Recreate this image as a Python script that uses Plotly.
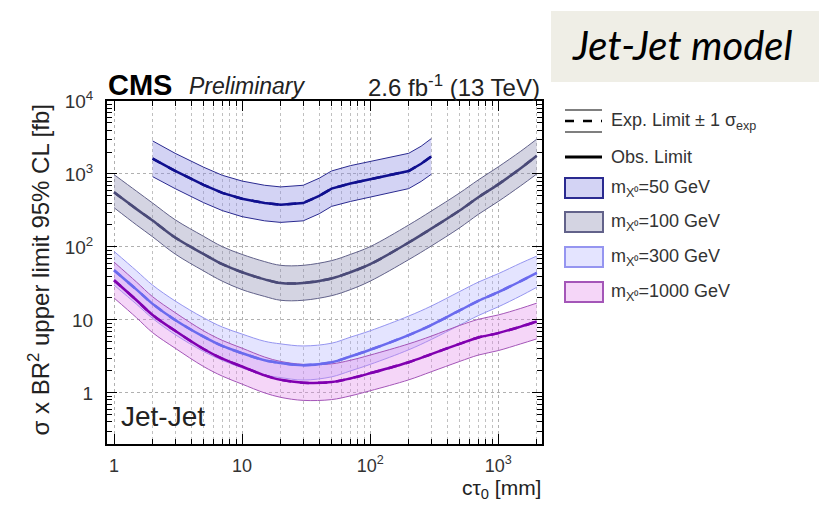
import plotly.graph_objects as go

# ---------------- data ----------------
x_all = [1, 1.5, 2, 3, 5, 7, 10, 15, 20, 30, 50, 70, 100, 200, 300, 500, 700, 1000, 1500, 2000]

m100_med = [560, 330, 230, 135, 80, 58, 45, 36, 32, 32, 37, 45, 58, 115, 178, 316, 480, 720, 1200, 1780]
m100_up = [980, 580, 400, 236, 140, 101, 79, 63, 56, 56, 65, 79, 101, 200, 310, 550, 830, 1250, 2050, 3000]
m100_dn = [345, 200, 138, 80, 47, 34, 26, 21, 18.6, 18.6, 21.5, 26, 34, 67, 103, 183, 280, 420, 690, 1000]

m300_med = [48, 26, 16.6, 10, 5.9, 4.4, 3.5, 2.8, 2.57, 2.4, 2.63, 3.16, 3.9, 6.2, 8.5, 13.5, 18.2, 24, 34, 44]
m300_up = [87, 47, 30, 18.2, 10.7, 8.0, 6.4, 5.1, 4.7, 4.4, 4.8, 5.8, 7.1, 11.3, 15.5, 24.5, 33, 43, 60, 75]
m300_dn = [30, 16.4, 10.5, 6.3, 3.7, 2.8, 2.2, 1.76, 1.62, 1.5, 1.66, 2.0, 2.46, 3.9, 5.4, 8.5, 11.5, 15.1, 21.4, 28]

m1000_med = [35, 18.6, 11.7, 7.1, 4.0, 2.95, 2.3, 1.74, 1.51, 1.38, 1.41, 1.58, 1.86, 2.63, 3.4, 4.7, 5.75, 6.6, 8.1, 9.5]
m1000_up = [62, 33, 20.8, 12.6, 7.1, 5.25, 4.1, 3.1, 2.7, 2.46, 2.5, 2.8, 3.3, 4.7, 6.0, 8.4, 10.2, 11.7, 14.4, 17]
m1000_dn = [20, 10.7, 6.7, 4.1, 2.3, 1.7, 1.32, 1.0, 0.87, 0.79, 0.81, 0.91, 1.07, 1.51, 1.95, 2.7, 3.3, 3.8, 4.7, 5.5]

x_50 = [2, 3, 5, 7, 10, 15, 20, 30, 40, 50, 70, 100, 150, 200, 250, 300]
m50_med = [1620, 1100, 710, 550, 457, 400, 380, 400, 500, 630, 740, 850, 980, 1100, 1380, 1740]
m50_up = [2840, 1920, 1240, 960, 800, 700, 665, 700, 875, 1100, 1300, 1490, 1710, 1920, 2400, 3050]
m50_dn = [920, 630, 405, 315, 260, 228, 217, 228, 285, 360, 420, 485, 560, 630, 790, 990]

legend_labels = ["m<sub>X⁰</sub>=50 GeV", "m<sub>X⁰</sub>=100 GeV",
                 "m<sub>X⁰</sub>=300 GeV", "m<sub>X⁰</sub>=1000 GeV"]

x_tickvals = [1, 10, 100, 1000]
x_ticktext = ["1", "10", "10<sup>2</sup>", "10<sup>3</sup>"]
y_tickvals = [1, 10, 100, 1000, 10000]
y_ticktext = ["1", "10", "10<sup>2</sup>", "10<sup>3</sup>", "10<sup>4</sup>"]

# ---------------- styles ----------------
series = [
    dict(x=x_50, med=m50_med, up=m50_up, dn=m50_dn, fill="rgba(140,140,225,0.38)",
         edge="#2a2a90", line="#10108f", shape="linear"),
    dict(x=x_all, med=m100_med, up=m100_up, dn=m100_dn, fill="rgba(130,130,170,0.34)",
         edge="#62628a", line="#4a4a78", shape="spline"),
    dict(x=x_all, med=m300_med, up=m300_up, dn=m300_dn, fill="rgba(165,165,255,0.30)",
         edge="#9595f0", line="#6a6aee", shape="spline"),
    dict(x=x_all, med=m1000_med, up=m1000_up, dn=m1000_dn, fill="rgba(225,130,235,0.33)",
         edge="#a456b8", line="#8000b0", shape="spline"),
]

fig = go.Figure()
for s in series:
    fig.add_trace(go.Scatter(x=s["x"], y=s["up"], mode="lines", line=dict(color=s["edge"], width=1, shape=s["shape"]),
                             showlegend=False, hoverinfo="skip"))
    fig.add_trace(go.Scatter(x=s["x"], y=s["dn"], mode="lines", line=dict(color=s["edge"], width=1, shape=s["shape"]),
                             fill="tonexty", fillcolor=s["fill"], showlegend=False, hoverinfo="skip"))
for s in series:
    fig.add_trace(go.Scatter(x=s["x"], y=s["med"], mode="lines",
                             line=dict(color=s["line"], width=2.5, dash="dash", shape=s["shape"]), showlegend=False))
    fig.add_trace(go.Scatter(x=s["x"], y=s["med"], mode="lines",
                             line=dict(color=s["line"], width=2.5, shape=s["shape"]), showlegend=False))

# plot area in pixels
L, R, T, B = 107, 542, 101, 444
W, H = 819, 505


def px(X):
    return (X - L) / (R - L)


def py(Y):
    return (B - Y) / (B - T)


minor_x = [m * 10 ** d for d in range(0, 4) for m in range(2, 10)]
minor_y = [m * 10 ** d for d in range(-1, 4) for m in range(2, 10)]

fig.update_layout(
    width=W, height=H,
    margin=dict(l=L, r=W - R, t=T, b=H - B),
    paper_bgcolor="white", plot_bgcolor="white",
    font=dict(family="Liberation Sans, Arial, sans-serif", color="#222"),
    showlegend=False,
)
fig.update_xaxes(
    type="log", range=[-0.055, 3.342],
    tickvals=x_tickvals, ticktext=x_ticktext, tickfont=dict(size=18, color="#333"),
    ticks="inside", ticklen=10, tickcolor="black", mirror="allticks",
    showline=True, linecolor="black", linewidth=2,
    showgrid=True, gridcolor="#b0b0b0", griddash="dot", gridwidth=1,
    ticklabelstandoff=4,
    minor=dict(tickvals=minor_x, ticks="inside", ticklen=5, tickcolor="black",
               showgrid=True, gridcolor="#c0c0c0", griddash="dot", gridwidth=1),
    zeroline=False,
)
fig.update_yaxes(
    type="log", range=[-0.70, 4.0],
    tickvals=y_tickvals, ticktext=y_ticktext, tickfont=dict(size=19, color="#333"),
    ticks="inside", ticklen=10, tickcolor="black", mirror="allticks",
    showline=True, linecolor="black", linewidth=2,
    showgrid=True, gridcolor="#b0b0b0", griddash="dot", gridwidth=1,
    ticklabelstandoff=8,
    minor=dict(tickvals=minor_y, ticks="inside", ticklen=5, tickcolor="black", showgrid=False),
    zeroline=False,
)

ann = []
shapes = []
# header
ann.append(dict(x=px(106), y=py(85), xref="paper", yref="paper", xanchor="left", yanchor="middle",
                text="<b>CMS</b>", showarrow=False, font=dict(size=29, color="black")))
ann.append(dict(x=px(187), y=py(86), xref="paper", yref="paper", xanchor="left", yanchor="middle",
                text="<i>Preliminary</i>", showarrow=False, font=dict(size=23, color="#222")))
ann.append(dict(x=px(542), y=py(86), xref="paper", yref="paper", xanchor="right", yanchor="middle",
                text="2.6 fb<sup>-1</sup> (13 TeV)", showarrow=False, font=dict(size=24, color="#222")))
# axis titles
ann.append(dict(x=px(38), y=py(103), xref="paper", yref="paper", xanchor="center", yanchor="top",
                text="σ x BR<sup>2</sup> upper limit 95% CL [fb]", textangle=-90, showarrow=False,
                font=dict(size=24, color="#222")))
ann.append(dict(x=px(543), y=py(489), xref="paper", yref="paper", xanchor="right", yanchor="middle",
                text="cτ<sub>0</sub> [mm]", showarrow=False, font=dict(size=21, color="#222")))
# Jet-Jet label inside
ann.append(dict(x=px(119), y=py(416), xref="paper", yref="paper", xanchor="left", yanchor="middle",
                text="Jet-Jet", showarrow=False, font=dict(size=28, color="#222")))

# Jet-Jet model box
shapes.append(dict(type="rect", xref="paper", yref="paper", x0=px(551), x1=px(819), y0=py(11), y1=py(82),
                   fillcolor="#efeee6", line=dict(width=0), layer="above"))
ann.append(dict(x=px(682), y=py(45), xref="paper", yref="paper", xanchor="center", yanchor="middle",
                text="<i>Jet-Jet model</i>", showarrow=False, font=dict(family="Lato, sans-serif", size=40, color="black")))

# legend
lx0, lx1, tx = 565, 602, 609
# expected
shapes.append(dict(type="line", xref="paper", yref="paper", x0=px(lx0), x1=px(lx1), y0=py(110), y1=py(110),
                   line=dict(color="#555", width=1.5)))
shapes.append(dict(type="line", xref="paper", yref="paper", x0=px(lx0), x1=px(lx1), y0=py(132), y1=py(132),
                   line=dict(color="#555", width=1.5)))
shapes.append(dict(type="line", xref="paper", yref="paper", x0=px(lx0), x1=px(lx1), y0=py(121), y1=py(121),
                   line=dict(color="black", width=2.5, dash="dash")))
ann.append(dict(x=px(tx), y=py(122), xref="paper", yref="paper", xanchor="left", yanchor="middle",
                text="Exp. Limit ± 1 σ<sub>exp</sub>", showarrow=False, font=dict(size=18, color="#333")))
# observed
shapes.append(dict(type="line", xref="paper", yref="paper", x0=px(lx0), x1=px(lx1), y0=py(157), y1=py(157),
                   line=dict(color="black", width=3)))
ann.append(dict(x=px(tx), y=py(157), xref="paper", yref="paper", xanchor="left", yanchor="middle",
                text="Obs. Limit", showarrow=False, font=dict(size=18, color="#333")))
ycent = [188, 222, 257, 292]
for s, lab, yc in zip(series, legend_labels, ycent):
    shapes.append(dict(type="rect", xref="paper", yref="paper", x0=px(lx0), x1=px(lx1 + 1),
                       y0=py(yc - 10), y1=py(yc + 10), fillcolor=s["fill"],
                       line=dict(color=s["edge"], width=2)))
    ann.append(dict(x=px(tx), y=py(yc), xref="paper", yref="paper", xanchor="left", yanchor="middle",
                    text=lab, showarrow=False, font=dict(size=18, color="#333")))

fig.update_layout(annotations=ann, shapes=shapes)
fig.write_html("out.html")
